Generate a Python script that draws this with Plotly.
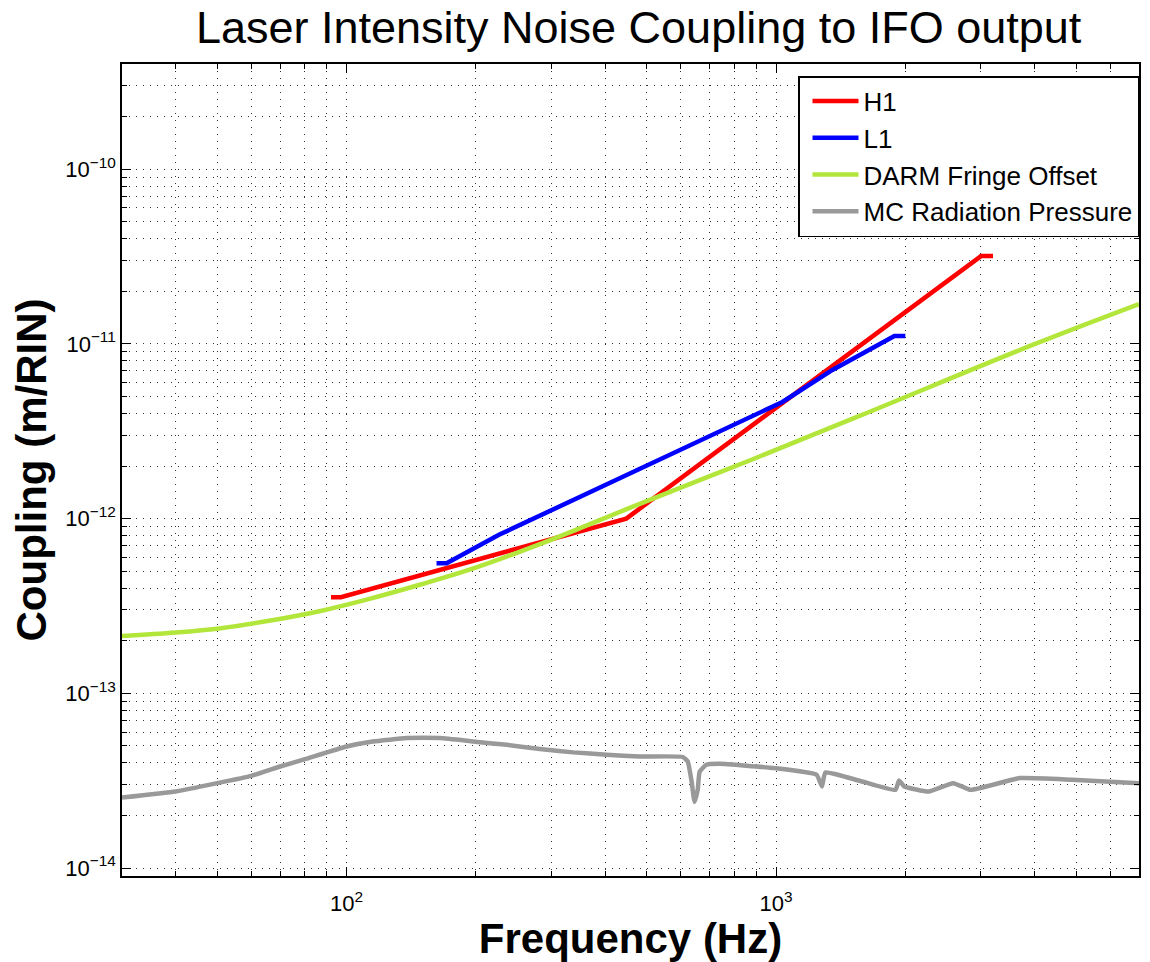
import math
import plotly.graph_objects as go

# ---- data ----
freq_h1 = [92, 97, 448, 3000, 3200]
coup_h1 = [3.55e-13, 3.55e-13, 1.0e-12, 3.18e-11, 3.18e-11]

freq_l1 = [162, 171, 227, 389, 664, 1035, 1353, 1886, 2000]
coup_l1 = [5.56e-13, 5.56e-13, 8.1e-13, 1.50e-12, 2.78e-12, 4.65e-12, 7.09e-12, 1.11e-11, 1.11e-11]

freq_darm = [30, 40, 51, 66, 87, 113, 148, 199, 297, 464, 664, 868, 1621, 3956, 7000]
coup_darm = [2.13e-13, 2.23e-13, 2.36e-13, 2.60e-13, 2.96e-13, 3.47e-13, 4.18e-13, 5.22e-13,
             7.5e-13, 1.17e-12, 1.66e-12, 2.15e-12, 4.01e-12, 9.86e-12, 1.69e-11]

freq_mc = [30, 40, 50, 60, 70, 80, 100, 115, 138, 165, 197, 236, 282, 337, 403, 482,
           607, 623, 636, 646, 657, 664, 688, 739, 993, 1243, 1279, 1303, 1564, 1897,
           1934, 1988, 2268, 2586, 2840, 3693, 4892, 7000]
coup_mc = [2.53e-14, 2.74e-14, 3.06e-14, 3.37e-14, 3.81e-14, 4.20e-14, 4.96e-14, 5.30e-14,
           5.54e-14, 5.54e-14, 5.30e-14, 5.07e-14, 4.80e-14, 4.59e-14, 4.45e-14, 4.35e-14,
           4.32e-14, 4.06e-14, 3.12e-14, 2.39e-14, 2.80e-14, 3.56e-14, 3.90e-14, 3.95e-14,
           3.73e-14, 3.42e-14, 2.93e-14, 3.52e-14, 3.16e-14, 2.80e-14, 3.17e-14, 2.93e-14,
           2.74e-14, 3.06e-14, 2.80e-14, 3.27e-14, 3.20e-14, 3.06e-14]

series_names = ["H1", "L1", "DARM Fringe Offset", "MC Radiation Pressure"]
series_colors = ["#FF0000", "#0000FF", "#B2E63A", "#999999"]

x_tickvals = [100, 1000]
x_ticktext = ["10<sup>2</sup>", "10<sup>3</sup>"]
y_tickvals = [1e-14, 1e-13, 1e-12, 1e-11, 1e-10]
y_ticktext = ["10<sup>\u221214</sup>", "10<sup>\u221213</sup>", "10<sup>\u221212</sup>",
              "10<sup>\u221211</sup>", "10<sup>\u221210</sup>"]

x_range = [30, 7000]
y_range = [9e-15, 4e-10]

x_minor = [m * 10 ** e for e in (1, 2, 3) for m in range(2, 10)]
y_minor = [m * 10.0 ** e for e in range(-15, -9) for m in range(2, 10)]

FONT = "Liberation Sans, Arial, Helvetica, sans-serif"
GRID = "rgba(0,0,0,0.8)"
DASH = "1px,6px"

fig = go.Figure()
for fx, cy, name, col, shape, smooth in [
    (freq_h1, coup_h1, series_names[0], series_colors[0], "linear", None),
    (freq_l1, coup_l1, series_names[1], series_colors[1], "linear", None),
    (freq_darm, coup_darm, series_names[2], series_colors[2], "spline", 1.0),
    (freq_mc, coup_mc, series_names[3], series_colors[3], "spline", 0.4),
]:
    line = dict(color=col, width=4.5, shape=shape)
    if smooth is not None:
        line["smoothing"] = smooth
    fig.add_trace(go.Scatter(x=fx, y=cy, mode="lines", name=name, line=line))

axis_common = dict(
    type="log", automargin=False,
    ticks="inside", ticklen=9, tickwidth=1, tickcolor="black",
    showline=True, linecolor="black", linewidth=1.5, mirror="allticks",
    showgrid=True, gridcolor=GRID, gridwidth=1, griddash=DASH,
    zeroline=False, tickfont=dict(size=22, color="black", family=FONT),
)

fig.update_layout(
    width=1142, height=954,
    margin=dict(l=114, r=11, t=56, b=86, autoexpand=False),
    paper_bgcolor="white", plot_bgcolor="white",
    font=dict(family=FONT, color="black"),
    title=dict(text="Laser Intensity Noise Coupling to IFO output",
               font=dict(size=45, family=FONT, color="black"),
               x=0.508, xref="paper", xanchor="center",
               y=1 - 19 / 954, yref="container", yanchor="middle"),
    xaxis=dict(**axis_common,
               range=[math.log10(x_range[0]), math.log10(x_range[1])],
               tickmode="array", tickvals=x_tickvals, ticktext=x_ticktext,
               ticklabelstandoff=7,
               minor=dict(tickvals=x_minor, ticks="inside", ticklen=5, tickcolor="black",
                          showgrid=True, gridcolor=GRID, griddash=DASH, gridwidth=1),
               title=dict(text="<b>Frequency (Hz)</b>", font=dict(size=42, family=FONT),
                          standoff=5)),
    yaxis=dict(**axis_common,
               range=[math.log10(y_range[0]), math.log10(y_range[1])],
               tickmode="array", tickvals=y_tickvals, ticktext=y_ticktext,
               minor=dict(tickvals=y_minor, ticks="inside", ticklen=5, tickcolor="black",
                          showgrid=True, gridcolor=GRID, griddash=DASH, gridwidth=1),
               title=dict(text="<b>Coupling (m/RIN)</b>", font=dict(size=42, family=FONT),
                          standoff=10)),
    legend=dict(x=1.0, xanchor="right", y=1 - 12 / 812, yanchor="top",
                bgcolor="white", bordercolor="black", borderwidth=1.5,
                font=dict(size=26, family=FONT, color="black"),
                itemwidth=46, tracegroupgap=0, indentation=8),
    showlegend=True,
)

fig.write_html("out.html")
